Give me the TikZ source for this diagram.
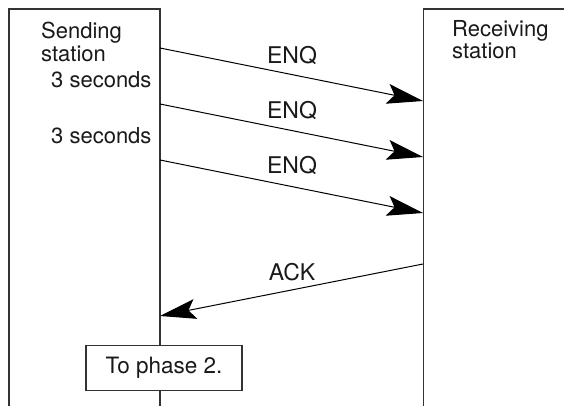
\documentclass[tikz,border=0pt]{standalone}
\usepackage{fontspec}
\setmainfont{TeX Gyre Heros}
\usetikzlibrary{arrows.meta}
\begin{document}
\begin{tikzpicture}[x=1pt,y=-1pt,
  lbl/.style={inner sep=0pt,text=black!90,font=\fontsize{22}{23}\selectfont,align=left},
  biglbl/.style={lbl,font=\fontsize{23}{24}\selectfont},
  life/.style={draw=black!80,line width=1.3pt},
  msg/.style={draw=black,line width=1pt,-{Stealth[length=36pt,width=20pt,inset=7pt]}},
  phasebox/.style={draw=black!80,line width=1.2pt,fill=white,minimum width=156pt,minimum height=45pt,inner sep=0pt,font=\fontsize{22.5}{23}\selectfont,text=black!90}]
\useasboundingbox (0,0) rectangle (564,406);
% lifeline boxes
\draw[life] (9,407) -- (9,9) -- (160,9) -- (160,407);
\draw[life] (423.5,407) -- (423.5,9) -- (565,9);
% station labels
\node[lbl,anchor=base west] (snd1) at (41,39) {Sending};
\node[lbl,anchor=base west] (snd2) at (41,62) {station};
\node[lbl,anchor=base west] (rcv1) at (452,37) {Receiving};
\node[lbl,anchor=base west] (rcv2) at (452,59) {station};
\node[lbl,anchor=base west] (sec1) at (51,88) {3 seconds};
\node[lbl,anchor=base west] (sec2) at (51,144) {3 seconds};
% endpoints
\coordinate (s1) at (160,48);
\coordinate (r1) at (423,101);
\coordinate (s2) at (160,104);
\coordinate (r2) at (423,157);
\coordinate (s3) at (160,160);
\coordinate (r3) at (423,213);
\coordinate (r4) at (423,264);
\coordinate (s4) at (160,316);
\draw[msg] (s1) -- (r1);
\draw[msg] (s2) -- (r2);
\draw[msg] (s3) -- (r3);
\draw[msg] (r4) -- (s4);
\node[biglbl,anchor=base] (enq1) at (292,64) {ENQ};
\node[biglbl,anchor=base] (enq2) at (292,119) {ENQ};
\node[biglbl,anchor=base] (enq3) at (292,174) {ENQ};
\node[biglbl,anchor=base] (ack) at (292,280) {ACK};
\node[phasebox] (phase) at (164,368) {To phase 2.};
\end{tikzpicture}
\end{document}
